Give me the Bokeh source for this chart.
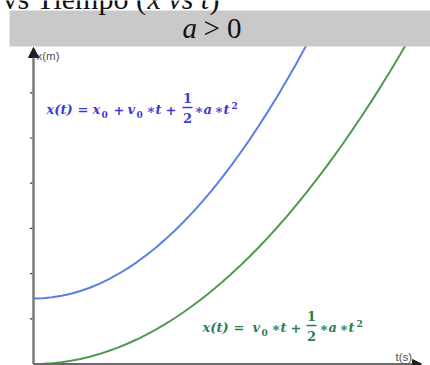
from bokeh.plotting import figure
from bokeh.models import Range1d, Arrow, NormalHead
from bokeh.core.properties import value
from bokeh.embed import file_html
from bokeh.resources import INLINE

# ---- data (t in s, x in m) ----
t_blue = [0, 0.25, 0.5, 0.75, 1, 1.25, 1.5, 1.75, 2, 2.25, 2.5, 2.75, 3, 3.25,
          3.5, 3.75, 4, 4.25, 4.5, 4.75, 5, 5.25, 5.5, 5.75, 6, 6.25, 6.5,
          6.75, 7, 7.25, 7.5]
x_blue = [1.45, 1.457, 1.477, 1.510, 1.556, 1.615, 1.688, 1.774, 1.873, 1.986,
          2.111, 2.250, 2.402, 2.568, 2.746, 2.938, 3.143, 3.361, 3.593, 3.837,
          4.095, 4.366, 4.651, 4.948, 5.259, 5.583, 5.920, 6.271, 6.634, 7.011,
          7.401]
t_green = [0, 0.25, 0.5, 0.75, 1, 1.25, 1.5, 1.75, 2, 2.25, 2.5, 2.75, 3, 3.25,
           3.5, 3.75, 4, 4.25, 4.5, 4.75, 5, 5.25, 5.5, 5.75, 6, 6.25, 6.5,
           6.75, 7, 7.25, 7.5, 7.75, 8, 8.25, 8.5, 8.75, 9, 9.25, 9.5, 9.75, 10]
x_green = [0, 0.0045, 0.0179, 0.0403, 0.0716, 0.1119, 0.1611, 0.2193, 0.2864,
           0.3625, 0.4475, 0.5415, 0.6444, 0.7563, 0.8771, 1.0069, 1.1456,
           1.2933, 1.4499, 1.6154, 1.79, 1.9735, 2.1659, 2.3673, 2.5776, 2.7969,
           3.0251, 3.2622, 3.5084, 3.7635, 4.0275, 4.3005, 4.5824, 4.8733,
           5.1731, 5.4819, 5.7996, 6.1263, 6.4619, 6.8065, 7.16]
y_ticks = [1, 2, 3, 4, 5, 6]
title_text = "vs Tiempo ("
x_label = "x(m)"
t_label = "t(s)"

# ---- pixel <-> data helpers (layout only) ----
W, H = 430, 365
OX, OY = 33.0, 363.5
SX, SY = 37.5, 45.2
K = 0.32  # baseline correction (fraction of font size)


def dx(px):
    return (px - OX) / SX


def dy(py):
    return (OY - py) / SY


def txt(s, px, base, size, font, color, style="normal", align="left"):
    p.text(x=[dx(px)], y=[dy(base - K * size)], text=[s], text_font=value(font),
           text_font_size=value(f"{size}px"), text_font_style=style,
           text_color=color, text_baseline="alphabetic", text_align=align)


p = figure(width=W, height=H, x_range=Range1d(dx(0), dx(W)),
           y_range=Range1d(dy(H), dy(0)), output_backend="svg",
           toolbar_location=None, min_border=0, x_axis_type=None,
           y_axis_type=None, outline_line_color=None,
           background_fill_color="white", border_fill_color="white")

# curves
p.line(t_blue, x_blue, line_color="#5b7fe6", line_width=2)
p.line(t_green, x_green, line_color="#4f9a50", line_width=2)

# header band (drawn after the curves so it covers their ends)
p.quad(left=[dx(9)], right=[dx(430)], top=[dy(10)], bottom=[dy(46)],
       fill_color="#c9c9c9", line_color=None)

# axes
p.add_layout(Arrow(end=NormalHead(size=10, fill_color="#1e1e1e", line_color="#1e1e1e"),
                   x_start=0, y_start=0, x_end=0, y_end=dy(47),
                   line_color="#7a7a7a", line_width=2.5))
p.add_layout(Arrow(end=NormalHead(size=9, fill_color="#1e1e1e", line_color="#1e1e1e"),
                   x_start=0, y_start=0, x_end=dx(421), y_end=0,
                   line_color="#6a6a6a", line_width=2))
p.segment(x0=[dx(29.5)] * len(y_ticks), x1=[dx(32)] * len(y_ticks),
          y0=y_ticks, y1=y_ticks, line_color="#333333", line_width=1.2)

txt(x_label, 36, 59, 11.5, "Liberation Sans", "#505050")
txt(t_label, 395, 360.5, 11.5, "Liberation Sans", "#505050")

SER = "Liberation Serif"
txt("a", 182, 37, 29, SER, "#111111", "italic")
txt("> 0", 203, 37, 29, SER, "#111111")
# cut-off title above band
txt(title_text, 2, 7.3, 30, SER, "#111111")
txt("x vs t", 147, 7.3, 30, SER, "#111111", "italic")
txt(")", 209, 7.3, 30, SER, "#111111")

# formulas
FF = "DejaVu Serif"


def tok(s, px, base, color, kind):
    size = {"it": 13, "up": 13, "sub": 9, "sup": 9, "fr": 13}[kind]
    shift = {"it": 0, "up": 0, "sub": 3, "sup": -6, "fr": 0}[kind]
    style = "bold italic" if kind == "it" else "bold"
    txt(s, px, base + shift, size, FF, color, style,
        "center" if kind == "fr" else "left")


def frac(cx, bar, color):
    tok("1", cx, bar - 5, color, "fr")
    tok("2", cx, bar + 15, color, "fr")
    p.segment(x0=[dx(cx - 5)], x1=[dx(cx + 5)], y0=[dy(bar)], y1=[dy(bar)],
              line_color=color, line_width=1.3)


BC = "#3a3ad8"
bb = 113.5
for s, px, kind in [("x(t)", 46, "it"), ("=", 77, "up"), ("x", 92, "it"),
                    ("0", 101, "sub"), ("+", 113, "up"), ("v", 127, "it"),
                    ("0", 136, "sub"), ("\u2217", 146, "up"), ("t", 155, "it"),
                    ("+", 165, "up"), ("\u2217", 194, "up"), ("a", 203, "it"),
                    ("\u2217", 214, "up"), ("t", 223, "it"), ("2", 231, "sup")]:
    tok(s, px, bb, BC, kind)
frac(187, 107, BC)

GC = "#2e7d4f"
gb = 331.5
for s, px, kind in [("x(t)", 202, "it"), ("=", 233, "up"), ("v", 252, "it"),
                    ("0", 261, "sub"), ("\u2217", 271, "up"), ("t", 280, "it"),
                    ("+", 290, "up"), ("\u2217", 319, "up"), ("a", 328, "it"),
                    ("\u2217", 339, "up"), ("t", 348, "it"), ("2", 356, "sup")]:
    tok(s, px, gb, GC, kind)
frac(311, 325, GC)

open("out.html", "w").write(file_html(p, INLINE))
